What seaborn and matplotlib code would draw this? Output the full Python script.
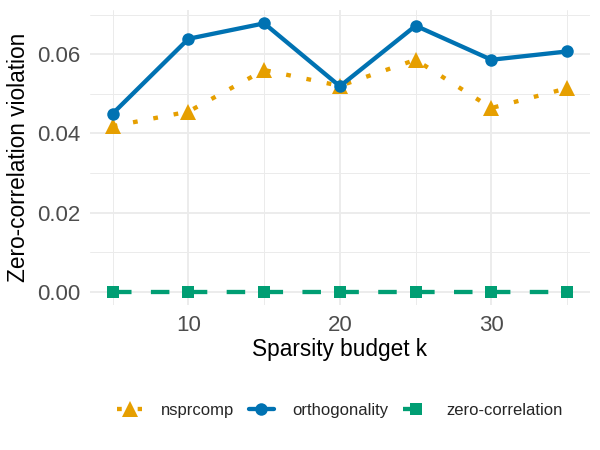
import numpy as np
import pandas as pd
import matplotlib
matplotlib.use('Agg')
import matplotlib.pyplot as plt
from matplotlib.ticker import MultipleLocator, FormatStrFormatter
import seaborn as sns

# values
k_values = [5, 10, 15, 20, 25, 30, 35]
nsprcomp = [0.0418, 0.0455, 0.0560, 0.0520, 0.0586, 0.0464, 0.0514]
orthogonality = [0.0450, 0.0639, 0.0678, 0.0519, 0.0672, 0.0586, 0.0607]
zero_correlation = [0.0, 0.0, 0.0, 0.0, 0.0, 0.0, 0.0]
methods = ['nsprcomp', 'orthogonality', 'zero-correlation']

df = pd.DataFrame({
    'k': k_values * 3,
    'violation': nsprcomp + orthogonality + zero_correlation,
    'method': np.repeat(methods, len(k_values)),
})

sns.set_theme(style='whitegrid')
plt.rcParams['font.family'] = ['Liberation Sans', 'DejaVu Sans']

palette = {'nsprcomp': '#E69F00', 'orthogonality': '#0072B2', 'zero-correlation': '#009E73'}
markers = {'nsprcomp': '^', 'orthogonality': 'o', 'zero-correlation': 's'}
dashes = {'nsprcomp': (1.1, 3.7), 'orthogonality': '', 'zero-correlation': (4.3, 4.5)}
msize = {'^': 11, 'o': 9, 's': 9}

fig = plt.figure(figsize=(6, 4.5), dpi=100)
ax = fig.add_axes([0.15, 0.322, 0.833, 0.656])

sns.lineplot(data=df, x='k', y='violation', hue='method', style='method',
             palette=palette, markers=markers, dashes=dashes,
             linewidth=3.1, markersize=9, markeredgewidth=0, ax=ax)
for ln in ax.lines:
    m = ln.get_marker()
    if m in msize:
        ln.set_markersize(msize[m])

ax.set_xlim(3.5, 36.5)
ax.set_ylim(-0.0034, 0.0712)
ax.xaxis.set_major_locator(MultipleLocator(10))
ax.xaxis.set_minor_locator(MultipleLocator(5))
ax.yaxis.set_major_locator(MultipleLocator(0.02))
ax.yaxis.set_minor_locator(MultipleLocator(0.01))
ax.yaxis.set_major_formatter(FormatStrFormatter('%.2f'))

ax.grid(which='major', color='#EBEBEB', linewidth=1.3)
ax.grid(which='minor', color='#EBEBEB', linewidth=0.7)
for s in ax.spines.values():
    s.set_visible(False)
ax.tick_params(axis='both', which='both', length=0, labelsize=16, labelcolor='#4D4D4D', pad=7)

ax.set_xlabel('Sparsity budget k', fontsize=16.3, color='black', va='center')
ax.set_ylabel('Zero-correlation violation', fontsize=16.3, color='black', va='center')
ax.xaxis.set_label_coords(0.5, -0.151)
ax.yaxis.set_label_coords(-0.144, 0.5)

sns.move_legend(ax, 'center', bbox_to_anchor=(0.567, 0.088), bbox_transform=fig.transFigure,
                ncol=3, title=None, frameon=False, fontsize=12,
                handlelength=1.5, columnspacing=0.9, handletextpad=1.1)
for h in ax.get_legend().legend_handles:
    m = h.get_marker()
    if m in msize:
        h.set_markersize(msize[m])

plt.savefig('out.png', dpi=100)
